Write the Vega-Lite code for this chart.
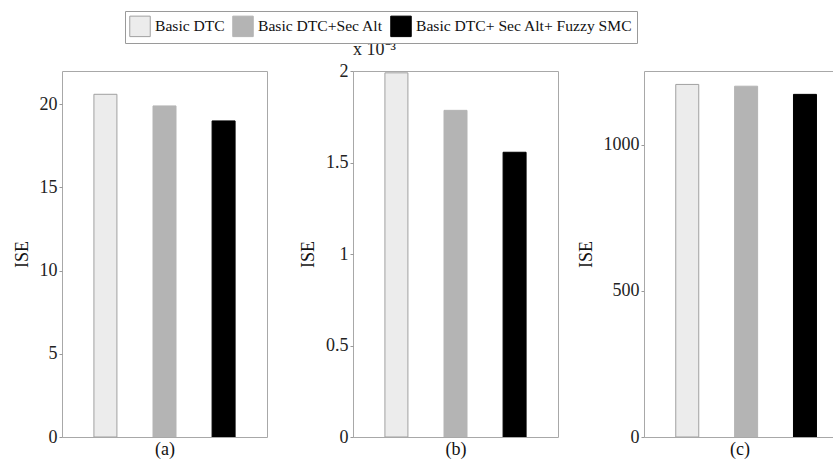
{
  "$schema": "https://vega.github.io/schema/vega-lite/v6.json",
  "padding": {"left": 12, "top": 10, "right": 0, "bottom": 0},
  "background": "white",
  "datasets": {
    "ise": [
      {"panel": "a", "method": "Basic DTC", "idx": 1, "ise": 20.6},
      {"panel": "a", "method": "Basic DTC+Sec Alt", "idx": 2, "ise": 19.9},
      {"panel": "a", "method": "Basic DTC+ Sec Alt+ Fuzzy SMC", "idx": 3, "ise": 19.0},
      {"panel": "b", "method": "Basic DTC", "idx": 1, "ise": 0.00199},
      {"panel": "b", "method": "Basic DTC+Sec Alt", "idx": 2, "ise": 0.001785},
      {"panel": "b", "method": "Basic DTC+ Sec Alt+ Fuzzy SMC", "idx": 3, "ise": 0.001556},
      {"panel": "c", "method": "Basic DTC", "idx": 1, "ise": 1207},
      {"panel": "c", "method": "Basic DTC+Sec Alt", "idx": 2, "ise": 1201},
      {"panel": "c", "method": "Basic DTC+ Sec Alt+ Fuzzy SMC", "idx": 3, "ise": 1173}
    ]
  },
  "data": {"name": "ise"},
  "spacing": 86,
  "bounds": "flush",
  "hconcat": [
    {
      "width": 205,
      "height": 366,
      "transform": [{"filter": "datum.panel == 'a'"}],
      "mark": {"type": "bar", "size": 23, "strokeWidth": 1, "clip": true},
      "encoding": {
        "x": {"field": "idx", "type": "quantitative", "scale": {"domain": [0.35, 3.65], "nice": false, "zero": false},
              "axis": {"title": "(a)", "labels": false, "ticks": false, "titlePadding": 3}},
        "y": {"field": "ise", "type": "quantitative", "scale": {"domain": [0, 22], "nice": false},
              "axis": {"title": "ISE", "values": [0, 5, 10, 15, 20]}},
        "fill": {"field": "method", "type": "nominal",
                 "scale": {"domain": ["Basic DTC", "Basic DTC+Sec Alt", "Basic DTC+ Sec Alt+ Fuzzy SMC"], "range": ["#ececec", "#b4b4b4", "#000000"]},
                 "legend": {"title": null, "orient": "none", "legendX": 63, "legendY": -60, "direction": "horizontal", "columns": 3}},
        "stroke": {"field": "method", "type": "nominal",
                   "scale": {"domain": ["Basic DTC", "Basic DTC+Sec Alt", "Basic DTC+ Sec Alt+ Fuzzy SMC"], "range": ["#a0a0a0", "#b4b4b4", "#000000"]},
                   "legend": {"title": null, "orient": "none", "legendX": 63, "legendY": -60, "direction": "horizontal", "columns": 3}}
      }
    },
    {
      "width": 205,
      "height": 366,
      "title": {"text": "x 10⁻³", "anchor": "start", "frame": "group", "offset": 3, "fontSize": 18, "font": "Liberation Serif", "fontWeight": "normal", "color": "#222"},
      "transform": [{"filter": "datum.panel == 'b'"}],
      "mark": {"type": "bar", "size": 23, "strokeWidth": 1, "clip": true},
      "encoding": {
        "x": {"field": "idx", "type": "quantitative", "scale": {"domain": [0.35, 3.65], "nice": false, "zero": false},
              "axis": {"title": "(b)", "labels": false, "ticks": false, "titlePadding": 3}},
        "y": {"field": "ise", "type": "quantitative", "scale": {"domain": [0, 0.002], "nice": false},
              "axis": {"title": "ISE", "values": [0, 0.0005, 0.001, 0.0015, 0.002], "labelExpr": "format(datum.value * 1000, '~g')"}},
        "fill": {"field": "method", "type": "nominal"},
        "stroke": {"field": "method", "type": "nominal"}
      }
    },
    {
      "width": 191,
      "height": 366,
      "view": {"stroke": null},
      "transform": [{"filter": "datum.panel == 'c'"}],
      "layer": [
        {
          "mark": {"type": "bar", "size": 23, "strokeWidth": 1, "clip": true},
          "encoding": {
            "x": {"field": "idx", "type": "quantitative", "scale": {"domain": [0.35, 3.425], "nice": false, "zero": false},
                  "axis": {"title": "(c)", "labels": false, "ticks": false, "titlePadding": 3, "domain": true, "domainColor": "#a8a8a8"}},
            "y": {"field": "ise", "type": "quantitative", "scale": {"domain": [0, 1253], "nice": false},
                  "axis": {"title": "ISE", "values": [0, 500, 1000], "format": "d", "domain": true, "domainColor": "#a8a8a8"}},
            "fill": {"field": "method", "type": "nominal"},
            "stroke": {"field": "method", "type": "nominal"}
          }
        },
        {
          "mark": {"type": "bar", "size": 23, "opacity": 0, "clip": true},
          "encoding": {
            "x": {"field": "idx", "type": "quantitative", "scale": {"domain": [0.35, 3.425], "nice": false, "zero": false},
                  "axis": {"orient": "top", "title": null, "labels": false, "ticks": false, "domain": true, "domainColor": "#a8a8a8"}},
            "y": {"field": "ise", "type": "quantitative"}
          }
        }
      ],
      "resolve": {"axis": {"x": "independent"}}
    }
  ],
  "resolve": {"scale": {"y": "independent", "x": "independent"}},
  "config": {
    "view": {"stroke": "#a8a8a8", "strokeWidth": 1},
    "font": "Liberation Serif",
    "axis": {
      "grid": false, "domain": false,
      "labelFont": "Liberation Serif", "labelFontSize": 18, "labelColor": "#222",
      "titleFont": "Liberation Serif", "titleFontSize": 18, "titleFontWeight": "normal", "titleColor": "#111",
      "tickColor": "#999", "tickSize": 3, "labelPadding": 2, "titlePadding": 8
    },
    "legend": {
      "labelFont": "Liberation Serif", "labelFontSize": 15.6, "labelColor": "#111", "labelLimit": 400,
      "symbolType": "square", "symbolSize": 420, "symbolStrokeWidth": 1, "symbolOpacity": 1,
      "strokeColor": "#9a9a9a", "fillColor": "white", "padding": 4,
      "labelOffset": 4, "columnPadding": 5
    }
  }
}
